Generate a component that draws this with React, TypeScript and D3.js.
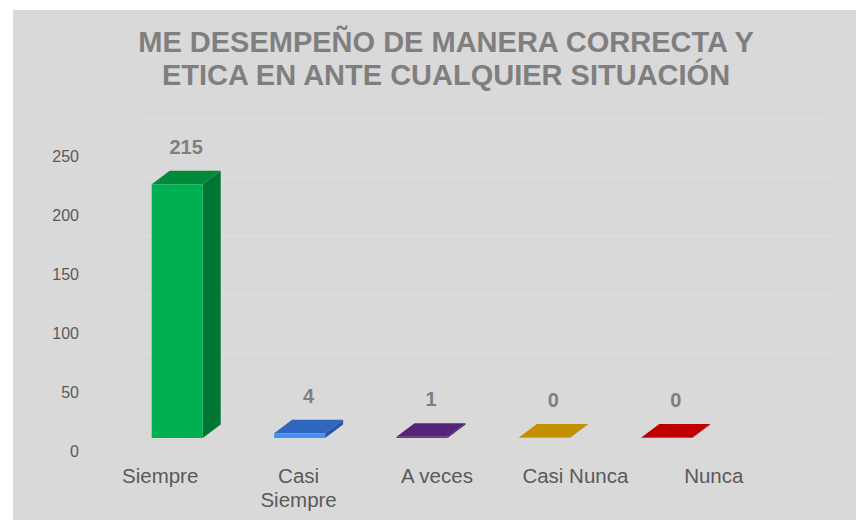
import React from 'react';
import * as d3 from 'd3';

// data
const categories = ['Siempre', 'Casi Siempre', 'A veces', 'Casi Nunca', 'Nunca'];
const tickLabels = [['Siempre'], ['Casi', 'Siempre'], ['A veces'], ['Casi Nunca'], ['Nunca']];
const values = [215, 4, 1, 0, 0];
const yTicks = [0, 50, 100, 150, 200, 250];
const titleLines = ['ME DESEMPEÑO DE MANERA CORRECTA Y', 'ETICA EN ANTE CUALQUIER SITUACIÓN'];

// face colours for each bar: front, top, side
const colors = [
  { front: '#00b050', top: '#008a3a', side: '#007632' },
  { front: '#4a8ef0', top: '#2f67bf', side: '#2756a6' },
  { front: '#6a3495', top: '#542479', side: '#441c63' },
  { front: '#d8a400', top: '#c49000', side: '#a67a00' },
  { front: '#d81010', top: '#c00000', side: '#a00000' },
];

const W = 856;
const H = 520;
const font = 'Arial, "Liberation Sans", sans-serif';

export default function App() {
  const dx = 18; // depth offset of the bars
  const dy = -13.5;

  const yFront = d3.scaleLinear().domain([0, 250]).range([451, 156]);
  const yBack = d3.scaleLinear().domain([0, 250]).range([413, 118]);
  const yBar = d3.scaleLinear().domain([0, 250]).range([438, 143]);

  const xBar = d3.scaleBand().domain(categories).range([116, 728]);
  const xLabel = d3.scaleBand().domain(categories).range([91, 783]);
  const barW = 51;

  return (
    <div style={{ position: 'absolute', left: 0, top: 0 }}>
      <svg width={W} height={H} style={{ display: 'block' }}>
        <rect x={13} y={10} width={W - 13} height={H - 10} fill="#d9d9d9" />

        {titleLines.map((t, i) => (
          <text key={t} x={446} y={52 + i * 33} textAnchor="middle"
            fontFamily={font} fontSize={29} fontWeight="bold" fill="#7f7f7f">{t}</text>
        ))}

        {/* gridlines: side wall + back wall */}
        {yTicks.map(t => (
          <polyline key={t} fill="none" stroke="#e0e0e0" strokeWidth={1}
            points={`92,${yFront(t)} 143,${yBack(t)} 831,${yBack(t)}`} />
        ))}

        {yTicks.map(t => (
          <text key={'l' + t} x={79} y={yFront(t)} textAnchor="end" dominantBaseline="central"
            fontFamily={font} fontSize={16} fill="#595959">{t}</text>
        ))}

        {/* 3d bars */}
        {categories.map((c, i) => {
          const x0 = xBar(c)! + (xBar.bandwidth() - barW) / 2;
          const x1 = x0 + barW;
          const yb = yBar(0);
          const yt = Math.min(yBar(values[i]), yb - 0.5);
          const col = colors[i];
          return (
            <g key={c}>
              <polygon fill={col.side}
                points={`${x1},${yb} ${x1 + dx},${yb + dy} ${x1 + dx},${yt + dy} ${x1},${yt}`} />
              <polygon fill={col.top}
                points={`${x0},${yt} ${x1},${yt} ${x1 + dx},${yt + dy} ${x0 + dx},${yt + dy}`} />
              <rect x={x0} y={yt} width={barW} height={yb - yt} fill={col.front} />
              <text x={(x0 + x1) / 2 + dx / 2} y={yt + dy - 17} textAnchor="middle"
                fontFamily={font} fontSize={20} fontWeight="bold" fill="#7f7f7f">{values[i]}</text>
            </g>
          );
        })}

        {categories.map((c, i) => (
          <text key={'c' + c} x={xLabel(c)! + xLabel.bandwidth() / 2} y={483} textAnchor="middle"
            fontFamily={font} fontSize={20.5} fill="#595959">
            {tickLabels[i].map((line, j) => (
              <tspan key={j} x={xLabel(c)! + xLabel.bandwidth() / 2} dy={j === 0 ? 0 : 24}>{line}</tspan>
            ))}
          </text>
        ))}
      </svg>
    </div>
  );
}
